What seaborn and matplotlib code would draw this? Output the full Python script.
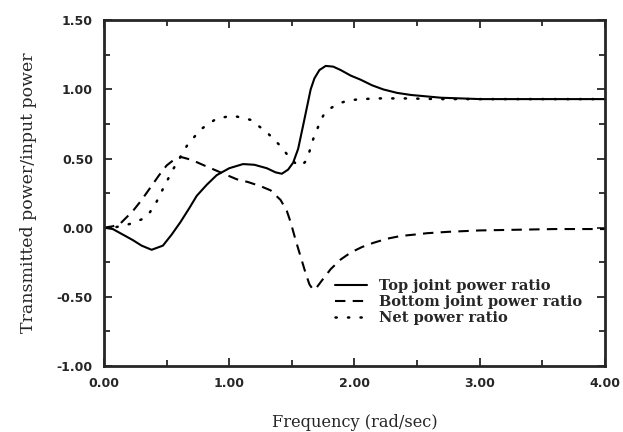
import numpy as np
import pandas as pd
import matplotlib
matplotlib.use('Agg')
import matplotlib.pyplot as plt
import seaborn as sns
from matplotlib.ticker import MultipleLocator, FormatStrFormatter

sns.set_style('ticks')
plt.rcParams['font.family'] = ['DejaVu Sans']

# values
top_freq = [0.0, 0.07, 0.15, 0.23, 0.30, 0.38, 0.47, 0.54, 0.61, 0.68, 0.74, 0.82, 0.90,
            1.00, 1.11, 1.20, 1.30, 1.37, 1.42, 1.47, 1.51, 1.55, 1.59, 1.62, 1.65, 1.68,
            1.72, 1.77, 1.83, 1.89, 1.97, 2.05, 2.14, 2.23, 2.34, 2.45, 2.57, 2.69, 2.85,
            3.00, 3.30, 3.60, 4.00]
top_ratio = [0.0, -0.01, -0.05, -0.09, -0.13, -0.16, -0.13, -0.05, 0.04, 0.14, 0.23, 0.31, 0.38,
             0.43, 0.46, 0.455, 0.43, 0.40, 0.39, 0.42, 0.47, 0.57, 0.74, 0.87, 1.00, 1.08,
             1.14, 1.17, 1.165, 1.14, 1.10, 1.07, 1.03, 1.00, 0.975, 0.96, 0.95, 0.94, 0.935,
             0.93, 0.93, 0.93, 0.93]

bottom_freq = [0.0, 0.07, 0.13, 0.23, 0.30, 0.37, 0.44, 0.50, 0.57, 0.62, 0.70, 0.80, 0.93,
               1.06, 1.15, 1.25, 1.33, 1.41, 1.46, 1.49, 1.53, 1.57, 1.61, 1.64, 1.67, 1.70,
               1.75, 1.81, 1.89, 1.97, 2.06, 2.15, 2.26, 2.37, 2.48, 2.58, 2.75, 3.00, 3.30,
               3.60, 4.00]
bottom_ratio = [0.0, 0.01, 0.03, 0.12, 0.20, 0.29, 0.38, 0.45, 0.50, 0.51, 0.49, 0.45, 0.40,
                0.35, 0.33, 0.30, 0.27, 0.20, 0.12, 0.04, -0.09, -0.21, -0.33, -0.41, -0.45, -0.43,
                -0.37, -0.30, -0.23, -0.18, -0.14, -0.11, -0.08, -0.06, -0.05, -0.04, -0.03, -0.02, -0.015,
                -0.01, -0.01]

net_freq = [0.0, 0.07, 0.13, 0.22, 0.30, 0.35, 0.41, 0.47, 0.55, 0.66, 0.77, 0.90, 1.03,
            1.17, 1.30, 1.41, 1.47, 1.51, 1.55, 1.58, 1.61, 1.64, 1.67, 1.71, 1.75, 1.79,
            1.82, 1.88, 1.95, 2.05, 2.20, 2.40, 2.70, 3.00, 3.50, 4.00]
net_ratio = [0.0, 0.0, 0.01, 0.03, 0.06, 0.09, 0.17, 0.28, 0.42, 0.59, 0.71, 0.79, 0.81,
             0.78, 0.69, 0.59, 0.52, 0.48, 0.45, 0.45, 0.48, 0.55, 0.64, 0.73, 0.81, 0.85,
             0.87, 0.90, 0.92, 0.93, 0.935, 0.935, 0.93, 0.93, 0.93, 0.93]

labels = ['Top joint power ratio', 'Bottom joint power ratio', 'Net power ratio']

fig = plt.figure(figsize=(6.23, 4.32), dpi=100)
ax = fig.add_axes([0.167, 0.153, 0.804, 0.800])

sns.lineplot(x=top_freq, y=top_ratio, ax=ax, color='black', lw=1.5,
             label=labels[0], sort=False)
sns.lineplot(x=bottom_freq, y=bottom_ratio, ax=ax, color='black', lw=1.5,
             label=labels[1], sort=False)
sns.lineplot(x=net_freq, y=net_ratio, ax=ax, color='black', lw=1.8,
             label=labels[2], sort=False)
ax.lines[1].set_dashes([5, 3.5])
ax.lines[2].set_dashes([0.5, 4.5])
ax.lines[2].set_dash_capstyle('round')

ax.set_xlim(0, 4)
ax.set_ylim(-1, 1.5)
ax.xaxis.set_major_locator(MultipleLocator(1))
ax.xaxis.set_minor_locator(MultipleLocator(0.5))
ax.yaxis.set_major_locator(MultipleLocator(0.5))
ax.yaxis.set_minor_locator(MultipleLocator(0.25))
ax.xaxis.set_major_formatter(FormatStrFormatter('%.2f'))
ax.yaxis.set_major_formatter(FormatStrFormatter('%.2f'))
ax.tick_params(which='both', direction='in', top=True, right=True, width=1.3,
               labelsize=9, pad=8)
ax.tick_params(which='major', length=6)
ax.tick_params(which='minor', length=4)
for lab in ax.get_xticklabels() + ax.get_yticklabels():
    lab.set_fontweight('bold')
for sp in ax.spines.values():
    sp.set_linewidth(2)
    sp.set_visible(True)

ax.set_xlabel('Frequency (rad/sec)', family='DejaVu Serif', fontsize=11.7, labelpad=17)
ax.set_ylabel('Transmitted power/input power', family='DejaVu Serif', fontsize=12.5, labelpad=14)

leg = ax.legend(loc='lower right', bbox_to_anchor=(0.98, 0.08), frameon=False,
                prop={'family': 'DejaVu Serif', 'weight': 'bold', 'size': 10.5},
                handlelength=2.2, labelspacing=0.15, handletextpad=0.8)

fig.savefig('out.png', dpi=100)
